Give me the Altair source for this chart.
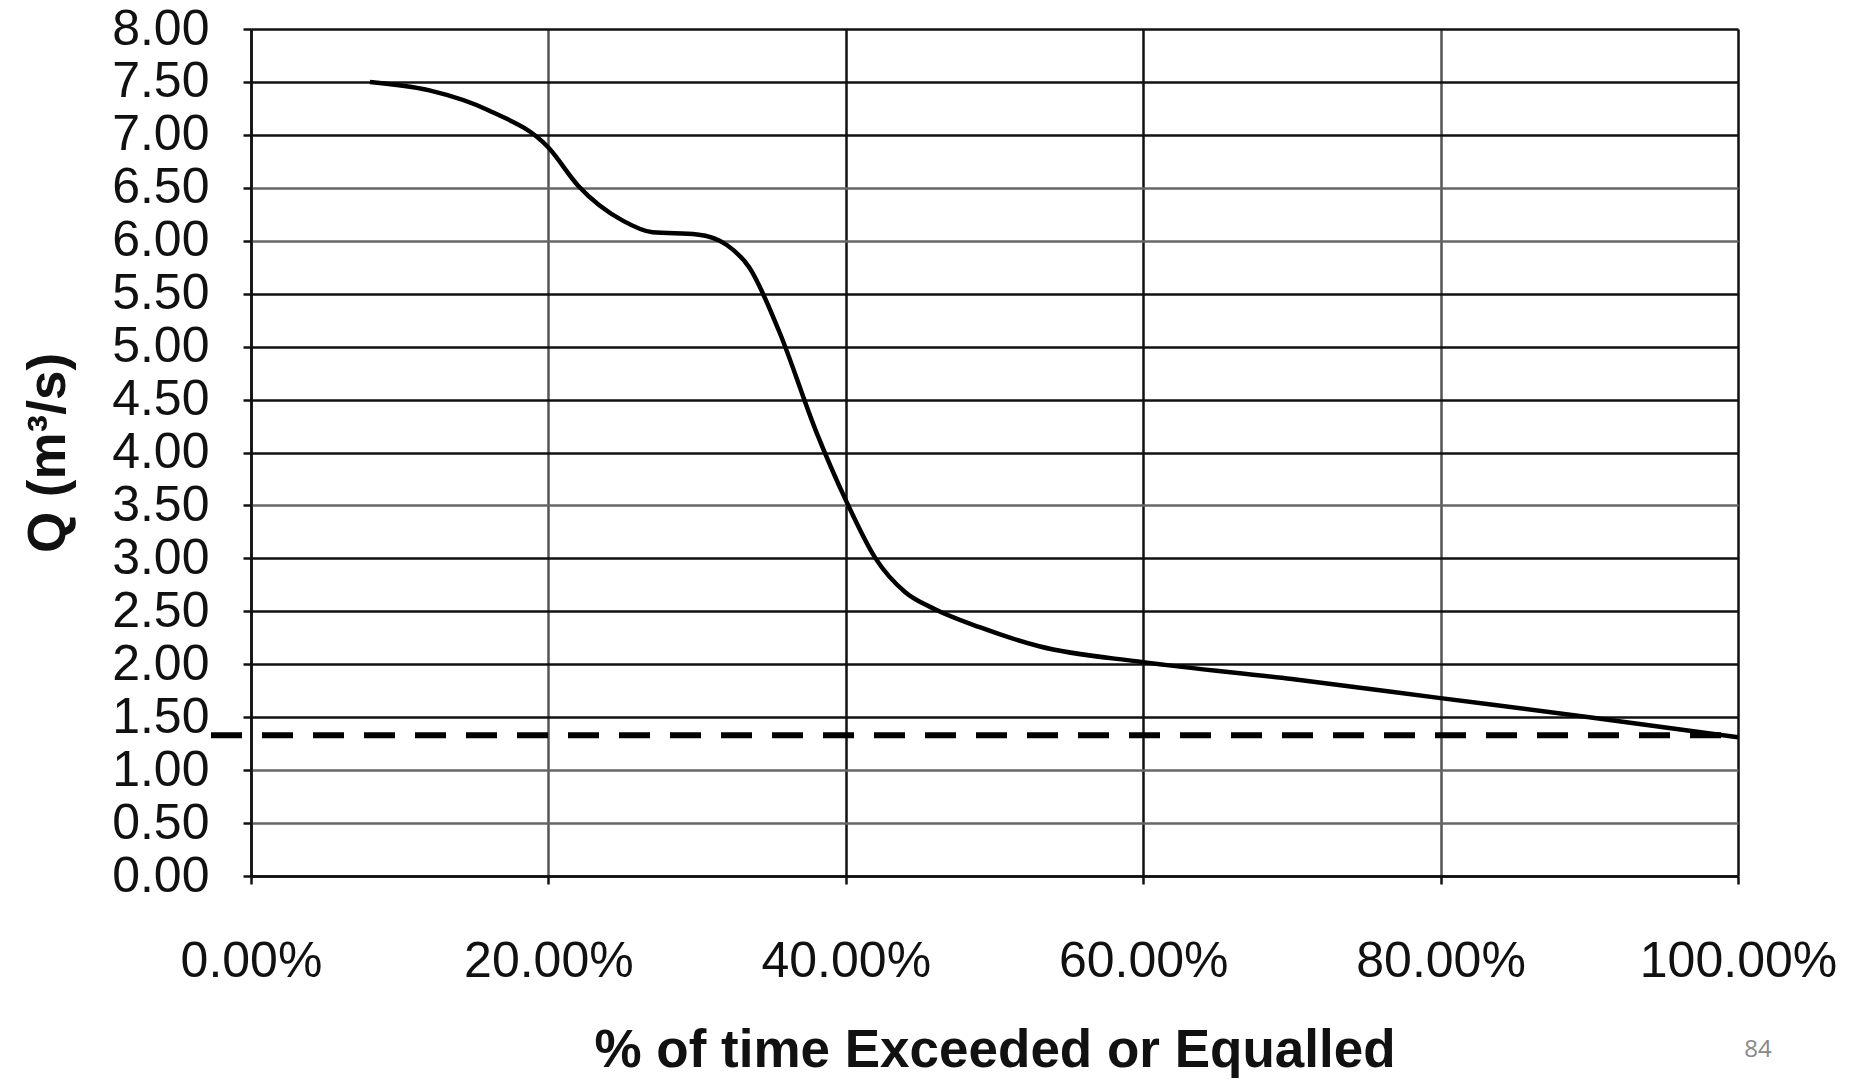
import altair as alt
import pandas as pd

# Flow duration curve
x_frac = [0.08, 0.12, 0.16, 0.20, 0.22, 0.25, 0.27, 0.30, 0.32, 0.335, 0.355, 0.38,
          0.40, 0.42, 0.44, 0.46, 0.49, 0.53, 0.60, 0.70, 0.80, 0.90, 1.00]
q_vals = [7.50, 7.42, 7.23, 6.88, 6.52, 6.19, 6.08, 6.06, 5.96, 5.75, 5.15, 4.20,
          3.55, 3.00, 2.68, 2.52, 2.35, 2.17, 2.02, 1.86, 1.68, 1.50, 1.31]
threshold_q = [1.33]
y_ticks = [0, 0.5, 1, 1.5, 2, 2.5, 3, 3.5, 4, 4.5, 5, 5.5, 6, 6.5, 7, 7.5, 8]
x_ticks = [0, 0.2, 0.4, 0.6, 0.8, 1.0]
page_label = ["84"]

df = pd.DataFrame({"x": x_frac, "q": q_vals})
df_thr = pd.DataFrame({"q": threshold_q})
df_pg = pd.DataFrame({"t": page_label})

FONT = "Liberation Sans"
TOP = 21
W, H = 1487, 847

x_enc = alt.X("x:Q", scale=alt.Scale(domain=[0, 1], nice=False),
              axis=alt.Axis(values=x_ticks, format=".2%", title="% of time Exceeded or Equalled",
                            labelFontSize=50, labelFont=FONT, labelColor="#111", labelLimit=0,
                            titleFontSize=53, titleFont=FONT, titleFontWeight="bold", titleColor="#111",
                            titleLimit=0,
                            labelPadding=52, titlePadding=38, tickSize=8, tickColor="#111", tickWidth=2.5,
                            grid=True, gridWidth=2.5,
                            gridColor={"condition": {"test": "datum.value == 0.2 || datum.value == 0.8", "value": "#555"}, "value": "#111"},
                            domainColor="#111", domainWidth=2.5, labelFlush=False))
y_enc = alt.Y("q:Q", scale=alt.Scale(domain=[0, 8], nice=False),
              axis=alt.Axis(values=y_ticks, format=".2f", title="Q (m³/s)",
                            labelFontSize=50, labelFont=FONT, labelColor="#111", labelLimit=0,
                            titleFontSize=53, titleFont=FONT, titleFontWeight="bold", titleColor="#111",
                            labelPadding=34, titlePadding=36, tickSize=8, tickColor="#111", tickWidth=2.5,
                            grid=True, gridWidth=2.5,
                            gridColor={"condition": {"test": "datum.value == 6.5 || datum.value == 6 || datum.value == 3.5 || datum.value == 1 || datum.value == 0.5", "value": "#666"}, "value": "#111"},
                            domainColor="#111", domainWidth=2.5, labelFlush=False))

curve = alt.Chart(df).mark_line(color="black", strokeWidth=4.5, interpolate="monotone").encode(
    x=x_enc, y=y_enc)

thr = alt.Chart(df_thr).mark_rule(color="black", strokeWidth=6, strokeDash=[31, 20]).encode(
    y="q:Q", x=alt.value(-40), x2=alt.value(W))

pg = alt.Chart(df_pg).mark_text(fontSize=24, font="Open Sans", color="#888", align="center", baseline="middle").encode(
    text="t:N", x=alt.value(1507), y=alt.value(1050 - 8 - TOP))

chart = alt.layer(curve, thr, pg).properties(
    width=W, height=H,
    autosize=alt.AutoSizeParams(type="none"),
    padding={"left": 243, "top": TOP, "right": 100, "bottom": 215},
).configure_view(stroke=None).configure(background="white")

chart.save("out.html", embed_options={"renderer": "svg", "actions": False})
